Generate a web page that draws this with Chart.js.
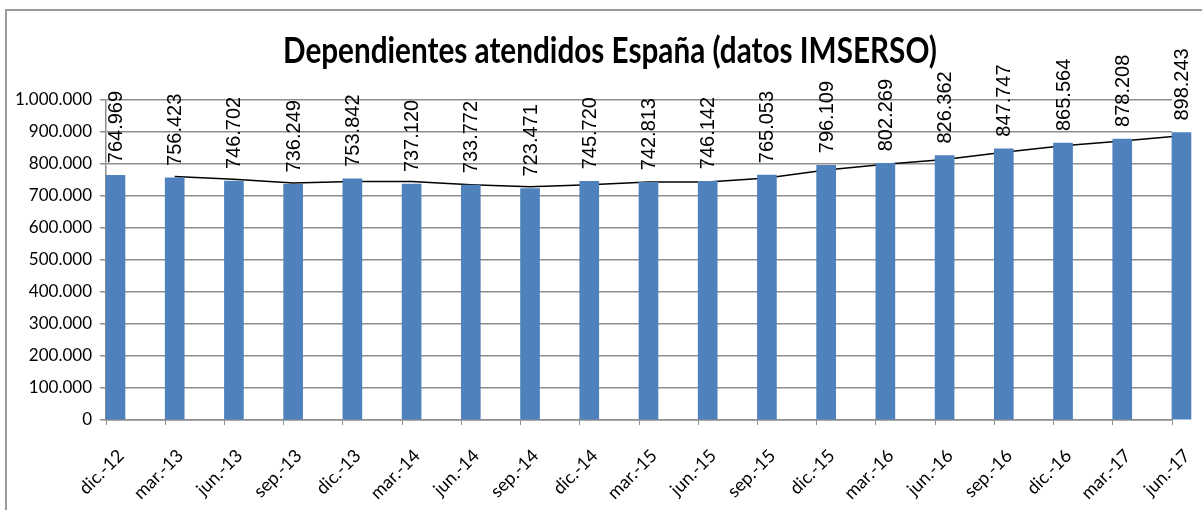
<!DOCTYPE html>
<html>
<head>
<meta charset="utf-8">
<script src="https://cdn.jsdelivr.net/npm/chart.js@4/dist/chart.umd.min.js"></script>
<style>
  html, body { margin: 0; padding: 0; background: #fff; }
  #wrap { position: relative; width: 1202px; height: 510px; overflow: hidden; }
  #frame { position: absolute; left: 5px; top: 9px; width: 1300px; height: 600px;
           border-top: 2px solid #9a9a9a; border-left: 2px solid #9a9a9a; }
  canvas { position: absolute; left: 0; top: 0; }
</style>
</head>
<body>
<div id="wrap">
  <div id="frame"></div>
  <canvas id="chart" width="1202" height="510"></canvas>
</div>
<script>
const titleText = 'Dependientes atendidos España (datos IMSERSO)';

const categories = [
	'dic.-12', 'mar.-13', 'jun.-13', 'sep.-13', 'dic.-13', 'mar.-14', 'jun.-14',
	'sep.-14', 'dic.-14', 'mar.-15', 'jun.-15', 'sep.-15', 'dic.-15', 'mar.-16',
	'jun.-16', 'sep.-16', 'dic.-16', 'mar.-17', 'jun.-17',
];
const dependientes = [
	764969, 756423, 746702, 736249, 753842, 737120, 733772, 723471, 745720,
	742813, 746142, 765053, 796109, 802269, 826362, 847747, 865564, 878208,
	898243,
];
// trend line (starts at mar.-13)
const tendencia = [
	null, 761000, 752000, 741000, 745000, 745000, 735000, 729000, 735000,
	744000, 744000, 756000, 781000, 799000, 814000, 837000, 857000, 872000,
	888000,
];
const yMin = 0;
const yMax = 1000000;
const yStep = 100000;

const barColor = '#4f81bd';
const gridColor = '#8e8e8e';

function formatThousands(value) {
	return String(Math.round(value)).replace(/\B(?=(\d{3})+(?!\d))/g, '.');
}

// title drawn a bit condensed, like the original
const titlePlugin = {
	id: 'condensedTitle',
	afterDraw(chart) {
		const ctx = chart.ctx;
		ctx.save();
		ctx.font = 'bold 36px Lato';
		ctx.fillStyle = '#000';
		ctx.textAlign = 'center';
		ctx.textBaseline = 'alphabetic';
		const w = ctx.measureText(titleText).width;
		ctx.translate(610, 63);
		ctx.scale(654 / w, 1);
		ctx.fillText(titleText, 0, 0);
		ctx.restore();
	},
};

// vertical value labels above each bar
const valueLabels = {
	id: 'valueLabels',
	afterDatasetsDraw(chart) {
		const meta = chart.getDatasetMeta(0);
		const ctx = chart.ctx;
		ctx.save();
		ctx.font = '20px "Liberation Sans"';
		ctx.fillStyle = '#000';
		ctx.textAlign = 'left';
		ctx.textBaseline = 'middle';
		meta.data.forEach((bar, i) => {
			ctx.save();
			ctx.translate(bar.x, bar.y - 12);
			ctx.rotate(-Math.PI / 2);
			ctx.fillText(formatThousands(dependientes[i]), 0, 1);
			ctx.restore();
		});
		ctx.restore();
	},
};

new Chart(document.getElementById('chart'), {
	type: 'bar',
	data: {
		labels: categories,
		datasets: [
			{
				label: 'Dependientes atendidos',
				data: dependientes.map((v, i) => ({ x: i, y: v })),
				xAxisID: 'xl',
				backgroundColor: barColor,
				borderWidth: 0,
				barThickness: 19,
				clip: false,
			},
			{
				type: 'line',
				label: 'Tendencia',
				data: tendencia.map((v, i) => ({ x: i, y: v })),
				xAxisID: 'xl',
				borderColor: '#000',
				borderWidth: 1.5,
				pointRadius: 0,
				tension: 0,
				clip: false,
			},
		],
	},
	options: {
		responsive: false,
		animation: false,
		events: [],
		layout: {
			padding: { top: 100, right: 30, left: 0, bottom: 0 },
		},
		plugins: {
			legend: { display: false },
			title: { display: false },
			tooltip: { enabled: false },
		},
		scales: {
			x: {
				type: 'category',
				offset: false,
				grid: {
					offset: false,
					drawOnChartArea: false,
					drawTicks: true,
					tickLength: 5,
					color: gridColor,
				},
				border: { color: gridColor, width: 1.5 },
				ticks: {
					autoSkip: false,
					maxRotation: 45,
					minRotation: 45,
					padding: 20,
					labelOffset: 15,
					color: '#000',
					font: { family: 'Lato', size: 18 },
				},
				afterFit(scale) {
					scale.height = 90;
					// keep the plot edges where the layout padding puts them
					scale.paddingLeft = 0;
					scale.paddingRight = 0;
				},
			},
			// hidden axis that carries the bars and the line, shifted so each
			// bar starts at its category tick
			xl: {
				type: 'linear',
				display: false,
				offset: false,
				min: -0.16,
				max: 17.84,
			},
			y: {
				min: yMin,
				max: yMax,
				ticks: {
					stepSize: yStep,
					padding: 8,
					color: '#000',
					font: { family: 'Lato', size: 17 },
					callback: (v) => formatThousands(v),
				},
				grid: {
					color: gridColor,
					lineWidth: 1.5,
					tickLength: 6,
				},
				border: { color: gridColor, width: 1.5 },
				afterFit(scale) {
					scale.width = 106;
				},
			},
		},
	},
	plugins: [titlePlugin, valueLabels],
});
</script>
</body>
</html>
